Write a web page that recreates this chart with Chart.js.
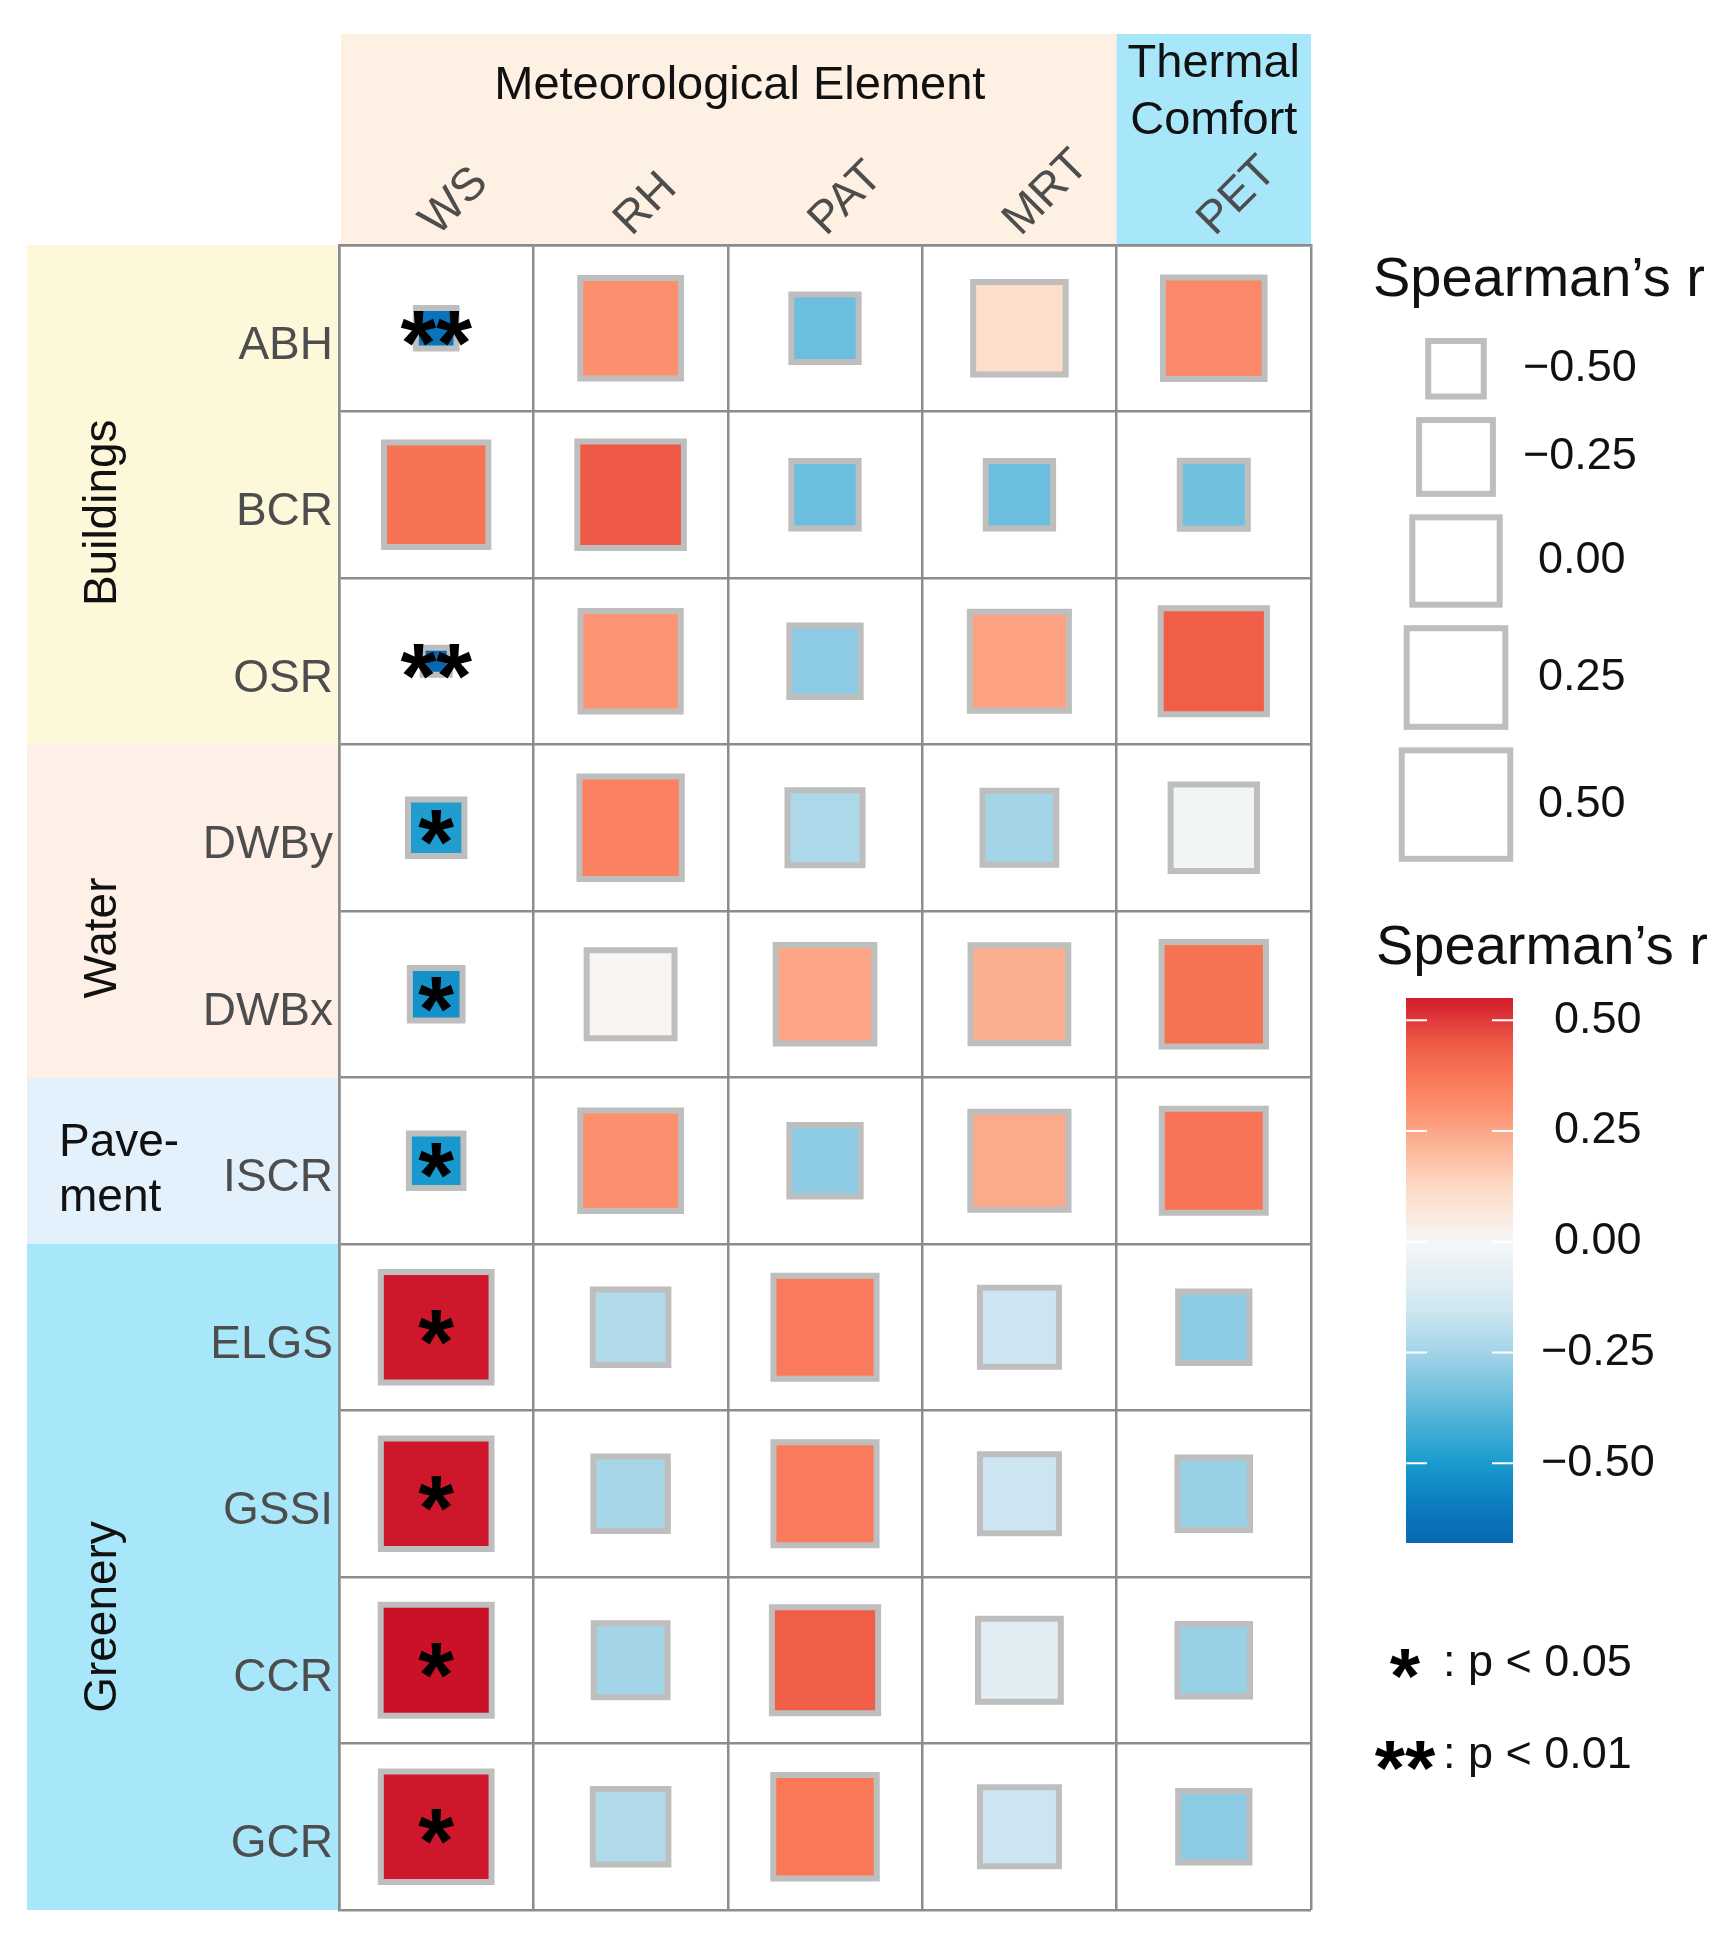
<!DOCTYPE html>
<html><head><meta charset="utf-8">
<script src="https://cdn.jsdelivr.net/npm/chart.js@4.4.1/dist/chart.umd.min.js"></script>
<style>html,body{margin:0;padding:0;background:#fff;overflow:hidden;}canvas{display:block;}</style>
</head><body><canvas id="c" width="1735" height="1941" style="width:1735px;height:1941px"></canvas>
<script>
// ---------------- DATA ----------------
const predictors = ['ABH','BCR','OSR','DWBy','DWBx','ISCR','ELGS','GSSI','CCR','GCR'];
const responses = ['WS','RH','PAT','MRT','PET'];
const predictorGroups = ['Buildings','Water','Pave-\nment','Greenery'];
const predictorGroupSizes = [3,2,1,4];
const responseGroups = ['Meteorological Element','Thermal\nComfort'];
const responseGroupSizes = [4,1];
// Spearman's r for each response, listed in predictor order
const rWS  = [-0.63, 0.39,-0.69,-0.49,-0.53,-0.51, 0.56, 0.56, 0.57, 0.56];
const rRH  = [ 0.30, 0.45, 0.29, 0.34, 0.01, 0.30,-0.22,-0.24,-0.25,-0.22];
const rPAT = [-0.35,-0.35,-0.29,-0.23, 0.25,-0.29, 0.36, 0.36, 0.44, 0.37];
const rMRT = [ 0.11,-0.35, 0.26,-0.25, 0.23, 0.24,-0.16,-0.16,-0.09,-0.16];
const rPET = [ 0.32,-0.34, 0.44,-0.02, 0.39, 0.38,-0.29,-0.27,-0.27,-0.29];
// significance marks
const sigWS  = ['**','','**','*','*','*','*','*','*','*'];
const sigRH  = ['','','','','','','','','',''];
const sigPAT = ['','','','','','','','','',''];
const sigMRT = ['','','','','','','','','',''];
const sigPET = ['','','','','','','','','',''];
const sizeLegendValues = [-0.50,-0.25,0.00,0.25,0.50];
const colorbarTicks = [0.50,0.25,0.00,-0.25,-0.50];
const colorbarRange = [-0.68, 0.55];
const pLegendMarks = ['*','**'];
const pLegendTexts = [': p < 0.05',': p < 0.01'];
const legendTitle = 'Spearman\u2019s r';

// ---------------- STYLE ----------------
const FONT = '"Liberation Sans", Arial, Helvetica, sans-serif';
const valuesByResponse = [rWS, rRH, rPAT, rMRT, rPET];
const sigByResponse = [sigWS, sigRH, sigPAT, sigMRT, sigPET];
const groupColors = ['#FDF8DA','#FEF0E6','#E3F1FC','#A8E6FA'];
const headerColors = ['#FEF1E3','#A8E6FA'];
const groupLabelOffsets = [18, 27, 10, 40];
const headerLabelOffsets = [12, 0];
const BW = 6, BORDER = '#BEBEBE', GRID = '#8C8C8C';
const SIZE_MIN_R = -0.70;
function sideOf(v){ return 25 + 81.7*Math.sqrt(Math.max(0, v - SIZE_MIN_R)); }
const colorStops = [[-0.70,'#0866AC'],[-0.60,'#0A7ABF'],[-0.50,'#1A9BCE'],[-0.35,'#6BBEDD'],[-0.25,'#A3D4E8'],[-0.15,'#D0E7F1'],[0,'#F7F7F7'],[0.12,'#FDDBC7'],[0.25,'#FCA687'],[0.30,'#FC8F6E'],[0.37,'#FA7858'],[0.45,'#EE5A45'],[0.50,'#E0393A'],[0.57,'#CB1127']];
function hex2rgb(h){return [parseInt(h.slice(1,3),16),parseInt(h.slice(3,5),16),parseInt(h.slice(5,7),16)];}
function colorOf(v){
  if (v <= colorStops[0][0]) return colorStops[0][1];
  for (let i=1;i<colorStops.length;i++){
    if (v <= colorStops[i][0]){
      const [v0,c0]=colorStops[i-1],[v1,c1]=colorStops[i];
      const t=(v-v0)/(v1-v0), a=hex2rgb(c0), b=hex2rgb(c1);
      return 'rgb('+a.map((x,k)=>Math.round(x+(b[k]-x)*t)).join(',')+')';
    }
  }
  return colorStops[colorStops.length-1][1];
}
function fmt(v){ const s=Math.abs(v).toFixed(2); return v<0 ? '\u2212'+s : s; }

// build scatter points
const points = [];
responses.forEach((resp,j)=>{
  predictors.forEach((pred,i)=>{
    points.push({x: resp, y: pred, v: valuesByResponse[j][i], sig: sigByResponse[j][i]});
  });
});

function drawStar(ctx, s, cx, cy, size){
  ctx.save();
  ctx.font = 'bold '+size+'px '+FONT;
  ctx.fillStyle = '#000';
  ctx.textAlign = 'center'; ctx.textBaseline = 'alphabetic';
  const m = ctx.measureText(s);
  ctx.fillText(s, cx, cy + (m.actualBoundingBoxAscent - m.actualBoundingBoxDescent)/2);
  ctx.restore();
}

const decor = {
  id: 'decor',
  beforeDraw(chart){
    const {ctx, chartArea:a} = chart;
    const cw = (a.right-a.left)/responses.length, rh = (a.bottom-a.top)/predictors.length;
    ctx.save();
    ctx.fillStyle = '#fff'; ctx.fillRect(0,0,chart.width,chart.height);
    let c0 = 0;
    responseGroupSizes.forEach((n,k)=>{
      const x0 = a.left + c0*cw + (k===0?2:0), x1 = a.left + (c0+n)*cw;
      ctx.fillStyle = headerColors[k];
      ctx.fillRect(x0, 34, x1-x0, a.top-34);
      c0 += n;
    });
    let r0 = 0;
    predictorGroupSizes.forEach((n,k)=>{
      const y0 = a.top + r0*rh, y1 = a.top + (r0+n)*rh;
      ctx.fillStyle = groupColors[k];
      ctx.fillRect(27, y0, a.left-27, y1-y0);
      r0 += n;
    });
    ctx.restore();
  },
  afterDatasetsDraw(chart){
    const {ctx, scales:{x,y}} = chart;
    points.forEach(p=>{
      if (p.sig) drawStar(ctx, p.sig, x.getPixelForValue(responses.indexOf(p.x)), y.getPixelForValue(predictors.indexOf(p.y)), 92);
    });
  },
  afterDraw(chart){
    const {ctx, chartArea:a, scales:{x,y}} = chart;
    const cw = (a.right-a.left)/responses.length, rh = (a.bottom-a.top)/predictors.length;
    ctx.save();
    // header group texts
    ctx.fillStyle = '#111'; ctx.font = '47px '+FONT; ctx.textAlign='center'; ctx.textBaseline='middle';
    let c0 = 0;
    responseGroups.forEach((name,k)=>{
      const cx = a.left + (c0 + responseGroupSizes[k]/2)*cw + headerLabelOffsets[k];
      const lines = name.split('\n');
      const cy = lines.length>1 ? 93 : 86;
      lines.forEach((ln,li)=>ctx.fillText(ln, cx, cy + (li-(lines.length-1)/2)*57));
      c0 += responseGroupSizes[k];
    });
    // column labels (rotated)
    ctx.fillStyle = '#4D4D4D'; ctx.font = '46px '+FONT; ctx.textAlign='left'; ctx.textBaseline='alphabetic';
    responses.forEach((r,j)=>{
      const cx = x.getPixelForValue(j);
      ctx.save(); ctx.translate(cx+1, a.top-8); ctx.rotate(-Math.PI/4); ctx.fillText(r, 0, 0); ctx.restore();
    });
    // row labels
    ctx.textAlign='right'; ctx.textBaseline='middle';
    predictors.forEach((p,i)=>{ ctx.fillText(p, a.left-6, y.getPixelForValue(i)+18); });
    // group labels
    ctx.fillStyle = '#111'; ctx.font = '46px '+FONT;
    let r0 = 0;
    predictorGroups.forEach((name,k)=>{
      const cy = a.top + (r0 + predictorGroupSizes[k]/2)*rh + groupLabelOffsets[k];
      const lines = name.split('\n');
      if (lines.length>1){
        ctx.textAlign='left'; ctx.textBaseline='middle';
        lines.forEach((ln,li)=>ctx.fillText(ln, 59, cy + (li-(lines.length-1)/2)*55));
      } else {
        ctx.save(); ctx.translate(103, cy); ctx.rotate(-Math.PI/2);
        ctx.textAlign='center'; ctx.textBaseline='middle'; ctx.fillText(name, 0, 0); ctx.restore();
      }
      r0 += predictorGroupSizes[k];
    });
    // ---- size legend ----
    ctx.fillStyle = '#111'; ctx.font = '56px '+FONT; ctx.textAlign='left'; ctx.textBaseline='middle';
    ctx.fillText(legendTitle, 1373, 281);
    let top = 338;
    ctx.font = '45px '+FONT;
    sizeLegendValues.forEach(v=>{
      const s = sideOf(v), cy = top + s/2;
      ctx.fillStyle = '#fff'; ctx.strokeStyle = BORDER; ctx.lineWidth = BW;
      const inner = s - BW;
      ctx.fillRect(1456-inner/2, cy-inner/2, inner, inner);
      ctx.strokeRect(1456-inner/2, cy-inner/2, inner, inner);
      ctx.fillStyle = '#111';
      ctx.fillText(fmt(v), v<0 ? 1523 : 1538, cy);
      top += s + 17.5;
    });
    // ---- colour bar legend ----
    ctx.font = '56px '+FONT;
    ctx.fillText(legendTitle, 1376, 949);
    const cbL = 1406, cbR = 1513, cbT = 998, cbB = 1543;
    const [cmin, cmax] = colorbarRange;
    const yOf = v => cbT + (cmax - v)/(cmax-cmin)*(cbB-cbT);
    const g = ctx.createLinearGradient(0, cbT, 0, cbB);
    for (let k=0;k<=40;k++){ const v = cmax - (cmax-cmin)*k/40; g.addColorStop(k/40, colorOf(v)); }
    ctx.fillStyle = g; ctx.fillRect(cbL, cbT, cbR-cbL, cbB-cbT);
    ctx.strokeStyle = '#fff'; ctx.lineWidth = 2;
    ctx.font = '45px '+FONT; ctx.fillStyle = '#111';
    colorbarTicks.forEach(v=>{
      const ty = yOf(v);
      ctx.beginPath(); ctx.moveTo(cbL, ty); ctx.lineTo(cbL+21, ty); ctx.moveTo(cbR-21, ty); ctx.lineTo(cbR, ty); ctx.stroke();
      ctx.fillText(fmt(v), v<0 ? 1541 : 1554, ty);
    });
    // ---- significance legend ----
    const py = [1664, 1756];
    pLegendMarks.forEach((m,k)=>{
      drawStar(ctx, m, 1405, py[k], 78);
      ctx.font = '45px '+FONT; ctx.fillStyle='#111'; ctx.textAlign='left'; ctx.textBaseline='middle';
      ctx.fillText(pLegendTexts[k], 1443, py[k]);
    });
    ctx.restore();
  }
};

new Chart(document.getElementById('c'), {
  type: 'scatter',
  data: { datasets: [{
    data: points,
    pointStyle: 'rect',
    pointRadius: c => c.raw ? (sideOf(c.raw.v)-BW)/Math.SQRT2 : 10,
    pointHoverRadius: c => c.raw ? (sideOf(c.raw.v)-BW)/Math.SQRT2 : 10,
    backgroundColor: c => c.raw ? colorOf(c.raw.v) : '#ccc',
    borderColor: BORDER,
    borderWidth: BW,
    hoverBorderWidth: BW
  }]},
  options: {
    responsive: false, animation: false, events: [], devicePixelRatio: 1,
    layout: { autoPadding: false, padding: { left: 339, top: 245, right: 424, bottom: 31 } },
    plugins: { legend: {display:false}, tooltip: {enabled:false} },
    scales: {
      x: { type:'category', labels: responses, position:'top', offset:true,
           grid:{ offset:true, color:GRID, lineWidth:2.5, drawTicks:false },
           border:{ display:true, color:GRID, width:2.5 }, ticks:{ display:false } },
      y: { type:'category', labels: predictors, offset:true,
           grid:{ offset:true, color:GRID, lineWidth:2.5, drawTicks:false },
           border:{ display:true, color:GRID, width:2.5 }, ticks:{ display:false } }
    }
  },
  plugins: [decor]
});
</script></body></html>
